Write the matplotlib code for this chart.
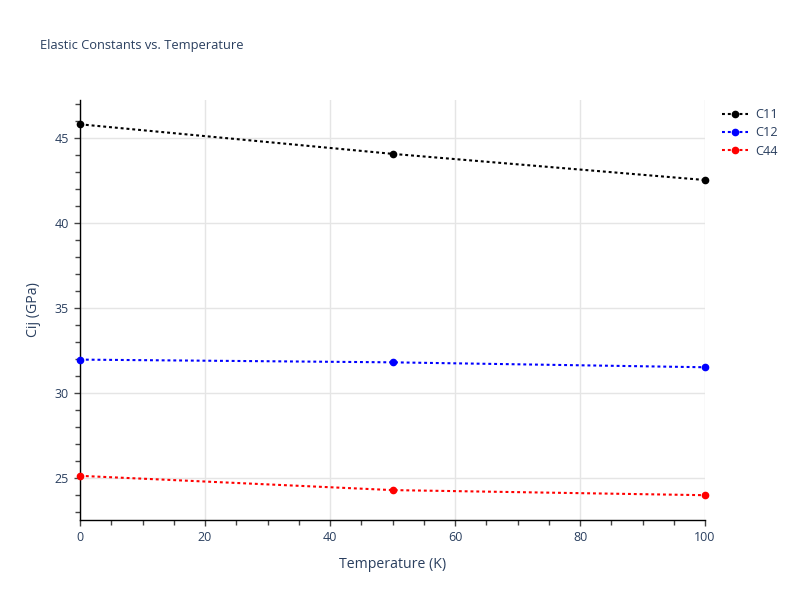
import matplotlib
matplotlib.use("Agg")
import matplotlib.pyplot as plt
from matplotlib.ticker import MultipleLocator

plt.rcParams['font.family'] = ['Open Sans', 'DejaVu Sans']

temperature = [0, 50, 100]
c11 = [45.83, 44.09, 42.55]
c12 = [31.98, 31.82, 31.53]
c44 = [25.14, 24.30, 24.00]
series_names = ["C11", "C12", "C44"]
series_colors = ["black", "blue", "red"]

text_color = "#2a3f5f"
fig = plt.figure(figsize=(8, 6), dpi=100)
ax = fig.add_axes([0.1, 1 - 520/600, 0.78125, 420/600])

for vals, name, col in zip([c11, c12, c44], series_names, series_colors):
    ax.plot(temperature, vals, color=col, linestyle=(0, (1.4, 1.4)), linewidth=1.5,
            marker='o', markersize=4.5, label=name, clip_on=False, zorder=3)

ax.set_xlim(0, 100)
ax.set_ylim(22.54, 47.26)
ax.xaxis.set_major_locator(MultipleLocator(20))
ax.xaxis.set_minor_locator(MultipleLocator(5))
ax.yaxis.set_major_locator(MultipleLocator(5))
ax.yaxis.set_minor_locator(MultipleLocator(1))
ax.grid(True, which='major', color='#e5e5e5', linewidth=1.0)
ax.set_axisbelow(True)
for s in ['top', 'right']:
    ax.spines[s].set_visible(False)
for s in ['left', 'bottom']:
    ax.spines[s].set_color('black')
    ax.spines[s].set_linewidth(1.0)
ax.tick_params(which='major', length=4.5, width=1, color='#444444', labelcolor=text_color, labelsize=9, pad=3.5)
ax.tick_params(which='minor', length=3.5, width=1, color='#444444')

ax.set_xlabel("Temperature (K)", color=text_color, fontsize=10.2, labelpad=9)
ax.set_ylabel("Cij (GPa)", color=text_color, fontsize=10.2, labelpad=10)

fig.text(40/800, 1 - 45/600, "Elastic Constants vs. Temperature", color=text_color,
         fontsize=9.3, va='center', ha='left')

leg = ax.legend(loc='upper left', bbox_to_anchor=(717/800, 1 - 103/600),
                bbox_transform=fig.transFigure, frameon=False, fontsize=9.2,
                handlelength=2.0, handletextpad=0.6, labelspacing=0.42,
                borderaxespad=0)
for t in leg.get_texts():
    t.set_color(text_color)

fig.savefig("out.png", dpi=100)
